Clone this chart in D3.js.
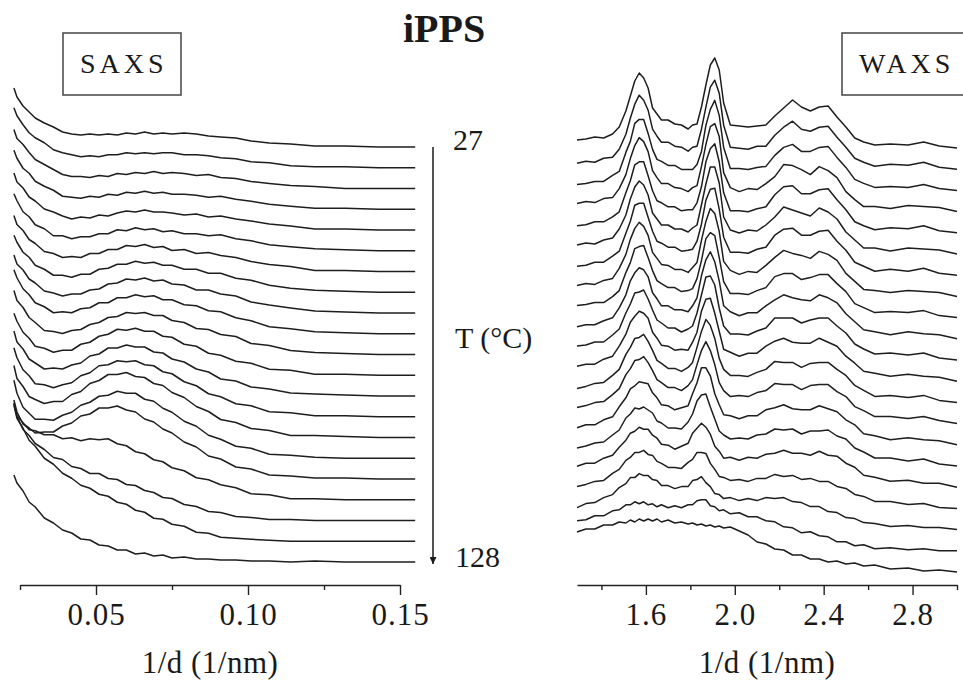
<!DOCTYPE html>
<html>
<head>
  <meta charset="utf-8">
  <title>iPPS SAXS / WAXS</title>
  <script src="https://cdn.jsdelivr.net/npm/d3@7"></script>
  <style>
    body { margin: 0; background: #fff; }
    text { font-family: "Liberation Serif", "Times New Roman", serif; fill: #1a1a1a; }
    .curve { fill: none; stroke: #1e1e1e; stroke-width: 1.5; stroke-linejoin: round; }
    .axis path, .axis line { stroke: #222; stroke-width: 1.4; }
  </style>
</head>
<body>
<div id="chart"></div>
<script>
// scattering vector grids (1/nm)
const saxsQ = [0.023,0.024,0.026,0.028,0.030,0.033,0.036,0.039,0.042,0.045,0.048,0.051,0.054,0.057,0.060,0.063,
  0.066,0.069,0.072,0.075,0.079,0.083,0.087,0.091,0.096,0.101,0.107,0.114,0.122,0.132,0.143,0.155];
const waxsQ = [1.29,1.33,1.37,1.41,1.45,1.48,1.51,1.53,1.55,1.57,1.59,1.61,1.63,1.65,1.67,1.70,1.73,1.76,1.79,1.81,
  1.83,1.85,1.87,1.89,1.91,1.93,1.95,1.98,2.02,2.06,2.10,2.14,2.18,2.22,2.26,2.30,2.34,2.38,2.42,2.46,2.50,2.54,
  2.58,2.63,2.70,2.78,2.85,2.92,3.00];

// intensities (a.u.), one row per temperature, 27 C first
const saxsI = [
  [59,50,41,35,29,24,20,15,13,12,13,12,13,12,14,13,15,13,14,13,14,13,11,10,9,6,4,3,1,1,0,0],
  [60,52,43,35,30,25,18,15,13,11,12,11,13,13,15,14,15,14,15,15,13,13,12,10,9,6,5,2,1,1,0,0],
  [59,50,44,36,29,24,19,14,12,12,11,13,12,15,14,16,15,17,15,16,15,13,14,11,10,7,5,3,2,0,0,0],
  [59,51,41,36,28,23,19,13,12,11,13,12,15,14,17,16,18,16,17,15,15,14,12,13,10,8,5,3,1,1,0,0],
  [57,48,42,33,29,21,18,14,11,13,12,15,14,17,19,18,20,18,18,17,15,16,13,14,11,9,6,4,1,1,0,0],
  [57,50,39,34,26,22,15,15,12,14,14,17,17,21,20,23,21,22,19,20,17,17,15,16,12,10,6,4,2,1,0,0],
  [56,47,41,32,28,20,18,14,15,14,18,18,22,22,26,25,27,24,25,21,22,18,19,16,14,10,7,5,1,1,0,0],
  [57,50,40,35,27,23,17,17,15,18,18,23,24,28,28,31,29,30,27,27,23,23,19,19,14,12,7,4,2,1,0,0],
  [58,49,43,34,30,22,20,17,19,19,23,24,29,30,34,33,35,32,33,29,28,23,23,19,17,11,8,5,2,1,0,0],
  [64,56,45,39,31,27,21,22,21,25,26,31,31,36,36,39,37,38,34,34,29,28,23,22,16,13,7,5,2,1,0,0],
  [64,54,47,37,32,24,23,21,24,25,30,32,37,38,42,41,42,39,39,34,32,26,25,20,18,11,9,4,2,1,0,0],
  [62,54,43,37,29,27,23,25,25,31,33,39,41,46,45,47,44,44,39,38,31,29,22,20,14,12,6,5,1,1,0,0],
  [65,54,47,37,33,27,28,27,31,33,40,42,48,48,51,49,49,44,43,37,34,27,24,17,15,9,7,3,2,1,0,0],
  [69,59,47,41,33,32,29,32,34,41,44,51,52,56,55,56,52,51,45,43,35,31,23,20,13,11,5,4,1,1,0,0],
  [72,59,51,41,38,34,36,36,43,46,54,57,63,63,65,61,60,54,52,45,40,31,26,18,15,9,7,2,2,1,0,0],
  [78,65,51,45,39,39,38,43,46,53,56,62,63,67,65,65,59,57,50,46,37,32,23,19,12,10,4,3,1,0,0,0],
  [79,67,55,51,46,47,47,53,56,63,65,71,71,73,69,67,60,57,50,46,37,32,23,20,12,10,4,3,1,1,0,0],
  [97,84,77,70,69,65,65,61,62,59,61,60,61,56,54,48,46,40,38,32,29,22,20,15,12,6,5,1,1,0,0,0],
  [117,104,91,85,77,71,63,61,54,52,47,47,42,41,36,35,30,28,23,22,16,14,9,8,4,3,1,1,0,0,0,0],
  [136,123,113,101,95,83,77,68,63,56,53,47,45,39,37,31,29,23,22,17,15,9,8,4,3,2,1,0,0,0,0,0],
  [87,79,71,60,55,44,39,32,29,23,22,17,16,12,12,8,9,6,7,4,5,3,3,2,2,1,1,0,1,0,0,0]
];

const waxsI = [
  [8,9,11,10,14,21,37,52,67,75,70,60,40,34,28,28,24,23,19,23,24,41,63,83,90,78,45,23,22,21,22,23,32,40,48,41,37,41,42,31,21,10,6,3,4,3,6,2,0],
  [6,8,7,11,12,20,35,51,65,74,69,59,40,33,27,27,23,22,18,22,23,40,62,82,89,76,44,22,21,20,23,23,34,42,48,40,38,42,43,32,22,11,7,3,5,4,7,2,0],
  [6,7,9,9,15,19,38,49,67,71,71,57,41,31,29,25,25,21,21,21,26,39,65,81,90,75,43,22,22,21,23,24,35,43,46,39,39,43,44,33,23,11,7,3,4,3,6,2,0],
  [8,10,9,13,14,23,37,53,66,74,70,60,41,34,28,28,24,23,20,24,26,45,67,85,88,75,39,24,20,23,22,28,35,47,46,42,37,45,41,34,20,12,5,5,3,6,5,4,0],
  [7,8,11,11,16,21,40,52,68,71,71,57,42,32,30,26,26,22,23,23,30,46,71,84,89,71,40,22,22,21,24,26,38,46,47,39,39,43,44,33,23,11,7,3,5,4,7,2,0],
  [9,11,10,14,16,25,39,55,67,73,69,59,41,35,29,29,25,25,22,26,29,49,70,87,87,71,37,24,21,24,23,29,37,47,44,41,38,46,42,35,22,14,6,6,3,6,5,4,0],
  [9,10,13,13,19,24,42,54,70,72,72,58,44,34,32,28,28,24,25,26,34,51,75,86,87,66,38,23,23,22,26,28,40,46,47,40,40,44,45,34,25,13,9,4,6,4,7,2,0],
  [11,13,12,16,18,28,42,57,68,74,70,61,44,38,32,31,27,27,24,29,34,56,75,88,83,65,35,26,22,25,24,31,39,46,43,41,38,45,42,36,23,15,7,6,4,6,5,4,0],
  [12,13,15,15,21,27,45,55,69,71,72,60,47,37,34,30,30,26,27,29,39,57,79,85,82,60,36,24,24,23,27,30,41,44,44,38,40,43,43,34,26,14,10,5,6,5,7,2,0],
  [12,14,14,18,21,31,44,58,66,71,69,62,46,40,33,33,29,29,27,33,41,63,79,87,77,58,33,27,23,26,26,33,39,44,41,39,38,44,41,36,25,17,9,7,4,7,5,4,0],
  [14,15,18,18,25,31,47,56,67,68,70,61,50,40,37,32,32,28,31,34,47,65,83,84,75,52,34,26,26,25,29,32,42,42,42,37,40,42,42,34,27,16,11,6,7,5,7,2,0],
  [15,17,17,22,25,35,47,59,65,70,68,63,49,43,36,35,31,32,31,39,49,70,82,83,68,50,32,29,25,28,28,35,40,43,39,38,38,43,39,35,25,18,10,8,5,7,5,4,0],
  [14,16,19,20,27,33,48,55,64,65,68,61,52,42,39,34,34,31,35,40,55,71,83,77,64,44,33,27,27,26,30,33,41,40,40,35,39,40,40,33,27,17,12,6,7,5,7,2,0],
  [16,18,21,22,29,35,49,55,63,64,67,61,53,44,41,36,36,33,38,44,59,73,82,73,59,41,33,27,28,27,31,33,40,39,39,34,38,39,39,32,27,17,13,7,7,5,7,3,0],
  [17,20,20,25,28,38,47,56,59,63,62,61,52,47,40,39,35,37,39,51,62,77,77,69,51,40,30,29,26,29,29,35,37,40,36,35,35,39,36,33,25,20,11,9,5,7,5,4,0],
  [18,20,23,24,31,36,48,52,58,57,59,56,53,45,43,38,38,37,44,52,65,71,72,59,47,35,31,27,28,27,31,32,37,36,37,32,35,35,36,30,27,18,14,8,8,5,7,2,0],
  [21,24,24,29,32,40,47,54,56,60,58,58,52,49,43,42,38,41,44,54,59,64,60,53,41,36,29,30,27,30,29,33,34,37,34,34,32,36,32,31,24,20,12,10,6,7,4,4,0],
  [22,24,27,28,35,39,48,51,56,56,58,54,53,47,45,41,41,40,46,49,56,56,55,45,39,32,31,28,29,27,30,30,34,32,33,29,30,27,27,22,20,14,12,7,7,4,5,1,0],
  [22,26,27,32,35,42,46,52,52,56,54,54,50,49,44,44,41,43,43,49,50,53,47,43,36,35,31,32,29,31,29,32,31,32,28,27,23,23,18,17,12,11,7,6,3,4,2,2,0],
  [30,31,35,35,40,41,46,46,49,47,49,46,47,44,46,43,45,43,46,46,50,51,51,45,44,40,41,37,38,34,34,30,29,24,23,18,19,15,14,9,9,5,6,2,3,1,2,0,0],
  [40,43,43,47,47,50,49,52,50,53,51,53,51,53,50,52,49,50,48,49,47,48,46,47,45,46,44,45,41,37,30,28,23,22,17,17,13,13,10,11,8,9,6,7,3,4,1,2,0]
];

const saxsMajor = [0.05, 0.10, 0.15];
const saxsMinor = [0.025, 0.075, 0.125];
const waxsMajor = [1.6, 2.0, 2.4, 2.8];
const waxsMinor = [1.4, 1.8, 2.2, 2.6, 3.0];
const tempLabels = ["27", "128"];

const W = 963, H = 681;
const axisY = 585;
const serif = '"Liberation Serif", "Times New Roman", serif';

const svg = d3.select('#chart').append('svg')
  .attr('width', W)
  .attr('height', H);

function panel(opts) {
  let x = d3.scaleLinear().domain(opts.xDomain).range(opts.xRange);
  let n = opts.rows.length;
  let step = opts.step;
  // each row is shifted down by one step
  let y = d3.scaleLinear()
    .domain([-(n - 1) * step, 0])
    .range([opts.yBottom, opts.yTop]);

  let line = d3.line()
    .x(d => x(d[0]))
    .y(d => y(d[1]));

  svg.append('g').selectAll('path')
    .data(opts.rows)
    .enter()
    .append('path')
    .attr('class', 'curve')
    .attr('d', (row, i) => line(row.map((v, j) => [opts.q[j], v - i * step])));

  let g = svg.append('g').attr('class', 'axis')
    .attr('transform', `translate(0,${axisY})`);

  g.call(d3.axisBottom(x).tickValues(opts.major).tickSize(10).tickSizeOuter(0)
      .tickFormat(d3.format(opts.fmt)));
  g.selectAll('text')
    .attr('y', 18)
    .style('font-family', serif)
    .style('font-size', '31px')
    .style('letter-spacing', '1px')
    .style('fill', '#1a1a1a');

  let gm = svg.append('g').attr('class', 'axis')
    .attr('transform', `translate(0,${axisY})`);
  gm.call(d3.axisBottom(x).tickValues(opts.minor).tickSize(5).tickSizeOuter(0).tickFormat(''));
  gm.select('.domain').remove();

  svg.append('text')
    .attr('x', opts.titleX)
    .attr('y', 673)
    .attr('text-anchor', 'middle')
    .style('font-size', '31px')
    .style('letter-spacing', '0.5px')
    .text('1/d (1/nm)');

  // boxed label
  svg.append('rect')
    .attr('x', opts.box[0]).attr('y', 33)
    .attr('width', opts.box[1]).attr('height', 62)
    .attr('fill', 'none')
    .attr('stroke', '#444')
    .attr('stroke-width', 1.5);
  svg.append('text')
    .attr('x', opts.box[0] + 17)
    .attr('y', 73)
    .style('font-size', '28px')
    .style('letter-spacing', '4px')
    .text(opts.name);
}

panel({
  name: 'SAXS', q: saxsQ, rows: saxsI, step: 20.75,
  xDomain: [0.025, 0.15], xRange: [20, 400],
  yTop: 147, yBottom: 562,
  major: saxsMajor, minor: saxsMinor, fmt: '.2f',
  titleX: 210, box: [63, 118]
});

panel({
  name: 'WAXS', q: waxsQ, rows: waxsI, step: 21.2,
  xDomain: [1.29, 3.0], xRange: [577, 957],
  yTop: 148, yBottom: 572,
  major: waxsMajor, minor: waxsMinor, fmt: '.1f',
  titleX: 767, box: [842, 130]
});

// title
svg.append('text')
  .attr('x', 403)
  .attr('y', 42)
  .style('font-size', '40px')
  .style('font-weight', 'bold')
  .text('iPPS');

// temperature arrow
svg.append('defs').append('marker')
  .attr('id', 'head')
  .attr('viewBox', '0 0 10 10')
  .attr('refX', 10).attr('refY', 5)
  .attr('markerWidth', 7).attr('markerHeight', 7)
  .attr('markerUnits', 'userSpaceOnUse')
  .attr('orient', 'auto')
  .append('path')
  .attr('d', 'M0,0L10,5L0,10Z')
  .attr('fill', '#1a1a1a');

svg.append('line')
  .attr('x1', 433).attr('x2', 433)
  .attr('y1', 147).attr('y2', 564)
  .attr('stroke', '#1a1a1a')
  .attr('stroke-width', 1.5)
  .attr('marker-end', 'url(#head)');

const tempFont = '30px';
svg.append('text').attr('x', 453).attr('y', 150).style('font-size', tempFont).text(tempLabels[0]);
svg.append('text').attr('x', 455).attr('y', 348).style('font-size', tempFont).text('T (°C)');
svg.append('text').attr('x', 455).attr('y', 567).style('font-size', tempFont).text(tempLabels[1]);
</script>
</body>
</html>
